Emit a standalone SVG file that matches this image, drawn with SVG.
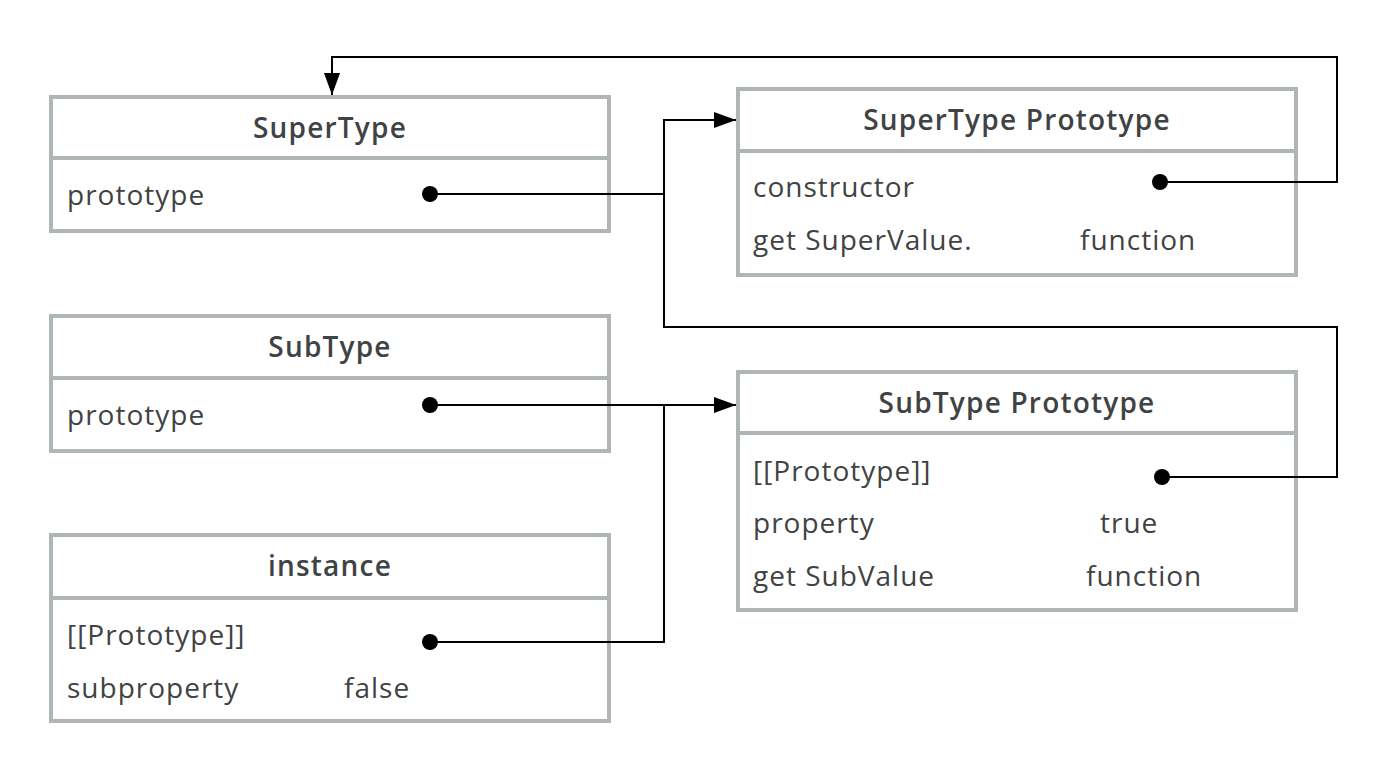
<svg xmlns="http://www.w3.org/2000/svg" width="1398" height="766" viewBox="0 0 1398 766">
<defs>
<style>
.box{fill:#fff;stroke:#b0b6b6;stroke-width:4}
.div{stroke:#b0b6b6;stroke-width:4}
.h{font-family:"Open Sans",Lato,sans-serif;font-weight:600;font-size:28px;letter-spacing:1.2px;fill:#3f4344;text-anchor:middle}
.t{font-family:"Open Sans",Lato,sans-serif;font-size:28px;letter-spacing:1px;fill:#3f4344}
.c{fill:none;stroke:#000;stroke-width:2}
.dot{fill:#000}
</style>
<marker id="ah" markerWidth="22" markerHeight="16" refX="22" refY="8" orient="auto" markerUnits="userSpaceOnUse">
<path d="M0,0 L22,8 L0,16 z" fill="#000"/>
</marker>
</defs>
<rect width="1398" height="766" fill="#fff"/>

<g id="SuperType">
<rect class="box" x="51" y="97" width="558" height="134"/>
<line class="div" x1="51" y1="158" x2="609" y2="158"/>
<text class="h" x="330" y="138">SuperType</text>
<text class="t" x="67" y="205">prototype</text>
</g>

<g id="SubType">
<rect class="box" x="51" y="316" width="558" height="135"/>
<line class="div" x1="51" y1="378" x2="609" y2="378"/>
<text class="h" x="330" y="357">SubType</text>
<text class="t" x="67" y="425">prototype</text>
</g>

<g id="instance">
<rect class="box" x="51" y="535" width="558" height="186"/>
<line class="div" x1="51" y1="598" x2="609" y2="598"/>
<text class="h" x="330" y="576">instance</text>
<text class="t" x="67" y="645">[[Prototype]]</text>
<text class="t" x="67" y="698">subproperty</text>
<text class="t" x="344" y="698">false</text>
</g>

<g id="SuperTypePrototype">
<rect class="box" x="738" y="89" width="558" height="186"/>
<line class="div" x1="738" y1="151" x2="1296" y2="151"/>
<text class="h" x="1017" y="130">SuperType Prototype</text>
<text class="t" x="753" y="197">constructor</text>
<text class="t" x="753" y="250">get SuperValue.</text>
<text class="t" x="1080" y="250">function</text>
</g>

<g id="SubTypePrototype">
<rect class="box" x="738" y="372" width="558" height="238"/>
<line class="div" x1="738" y1="433" x2="1296" y2="433"/>
<text class="h" x="1017" y="413">SubType Prototype</text>
<text class="t" x="753" y="481">[[Prototype]]</text>
<text class="t" x="753" y="533">property</text>
<text class="t" x="1100" y="533">true</text>
<text class="t" x="753" y="586">get SubValue</text>
<text class="t" x="1086" y="586">function</text>
</g>

<g id="connectors">
<path class="c" d="M430,194 H664"/>
<path class="c" d="M1162,477 H1337 V327 H664 V120 H736" marker-end="url(#ah)"/>
<path class="c" d="M1160,182 H1337 V57 H332 V95" marker-end="url(#ah)"/>
<path class="c" d="M430,405 H736" marker-end="url(#ah)"/>
<path class="c" d="M430,642 H664 V405"/>
<circle class="dot" cx="430" cy="194" r="8"/>
<circle class="dot" cx="430" cy="405" r="8"/>
<circle class="dot" cx="430" cy="642" r="8"/>
<circle class="dot" cx="1160" cy="182" r="8"/>
<circle class="dot" cx="1162" cy="477" r="8"/>
</g>
</svg>
